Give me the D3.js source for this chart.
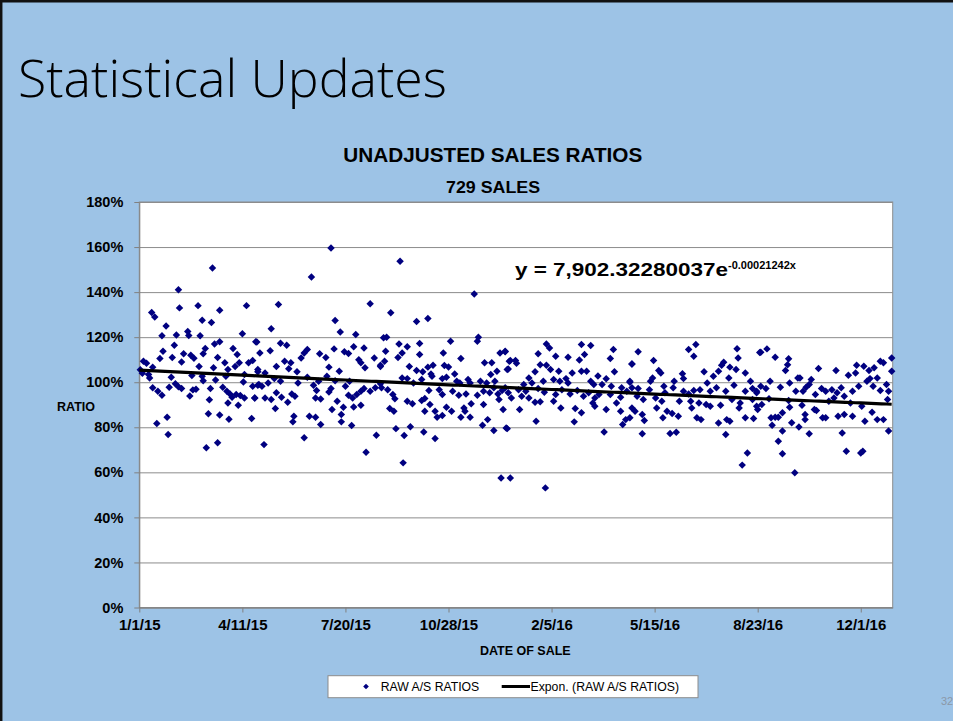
<!DOCTYPE html>
<html lang="en">
<head>
<meta charset="utf-8">
<title>Statistical Updates</title>
<script src="https://cdn.jsdelivr.net/npm/d3@7"></script>
<style>
  body { margin: 0; background: #9dc3e6; overflow: hidden; }
  svg { display: block; font-family: "Liberation Sans", Arial, sans-serif; }
  .grid line { stroke: #8c8c8c; stroke-width: 1; }
  .grid .domain { display: none; }
  .axis .domain, .axis line { stroke: #808080; }
  .axis text { fill: #000; font-weight: bold; }
  .sale { fill: #000080; }
  .trend { fill: none; stroke: #000; stroke-width: 3.2px; }
</style>
</head>
<body>
<svg width="953" height="721"></svg>
<script>
// ---- data (days after 1/1/15, ratio in %) ----
var chartTitle = "UNADJUSTED SALES RATIOS";
var chartSubtitle = "729 SALES";
var ratioTicks = [0, 20, 40, 60, 80, 100, 120, 140, 160, 180];
var dateTicks = ["1/1/15", "4/11/15", "7/20/15", "10/28/15", "2/5/16", "5/15/16", "8/23/16", "12/1/16"];

// fitted trend shown on the chart: y = 7,902.32280037e^(-0.00021242x), x = Excel date serial
var trendA = 7902.32280037;
var trendB = -0.00021242;

var sales2015a = [[1,105.5],[3,104],[71,150.7],[38,141],[39,133],[57,134],[104,134],[78,132],[12,131],[15,129],[61,127.5],[70,126.5],[26,125],[47,122.5],[22,120.6],[36,121],[48,120.7],[59,120.6],[100,121.5],[73,117],[78,118],[34,116.4],[64,115],[91,115],[113,118],[23,113.8],[43,112.6],[50,112],[62,112.6],[76,111],[95,112.3],[32,111],[20,110.5],[4,109.3],[7,108.4],[41,109],[53,110.6],[83,108.6],[97,108.6],[106,108.6],[110,109.6],[13,106.7],[58,107],[72,106.4],[86,105.6],[93,107],[115,105.6],[9,103.4],[31,102.2],[51,103],[61,102.7],[84,102.7],[102,103.4],[10,101.9],[62,100.7],[74,101],[101,100.1],[110,98.2],[115,98.7],[35,99.3],[38,98],[41,97.2],[29,97.8],[13,97.5],[18,96],[22,94.2],[52,96.6],[55,96.9],[49,93.9],[69,97.2],[81,97.8],[85,96],[88,94.8],[90,93.3],[94,94.5],[98,94.1],[102,93],[112,93],[68,92.2],[86,90.8],[96,89.8],[78,85.4],[67,86],[27,84.5],[87,83.6],[109,83.9],[17,81.7],[28,76.8],[65,70.9],[76,73.1]];

var sales2015b = [[186,159.6],[167,146.7],[135,134.5],[224,134.8],[190,127.4],[128,123.7],[195,122.3],[210,121.2],[237,119.7],[114,117.9],[137,117.3],[143,116.4],[127,114],[117,113],[163,114.5],[160,113],[189,114.8],[199,113.5],[203,112.7],[218,115.2],[208,115.7],[157,110.8],[175,112.6],[181,111],[228,110.8],[141,109.3],[147,108.6],[213,110],[133,107],[145,106],[153,104.6],[184,106.7],[194,104.9],[215,108.6],[219,106.4],[234,107.5],[115,104.6],[122,104.1],[163,102.2],[182,102.7],[174,100.4],[190,100.7],[204,100.4],[116,99],[119,98.2],[125,99.7],[131,101.6],[137,100.4],[154,99.7],[169,98.7],[172,96.3],[186,97.2],[200,98.2],[218,97.2],[224,96],[229,97.5],[234,99.3],[112,93],[122,93],[128,92.3],[133,95.3],[138,93.3],[148,94.8],[151,93.8],[171,93],[176,92.6],[184,95.7],[192,91.6],[203,94.2],[207,93],[211,94.5],[215,96],[144,91.1],[132,88.3],[187,87.9],[198,88.9],[208,89],[215,89.8],[165,84.9],[171,84.5],[150,84.9],[149,82.4],[176,81.2],[196,85.7],[196,82.4],[206,80.8],[121,72.3],[160,75.3],[220,68.9],[230,76.5]];

var sales2015c = [[253,153.7],[325,139.2],[244,130.8],[269,127],[280,128.3],[240,120],[252,117],[260,115.7],[272,117.2],[302,118.2],[329,120],[328,118.2],[350,113],[355,113.5],[239,113.8],[238,109.3],[255,113],[251,111],[272,112.3],[295,113],[312,110.5],[335,108.6],[342,108.6],[359,109.3],[234,107],[262,107],[269,105.2],[275,104.6],[280,106.7],[285,107.5],[283,103.7],[296,107.4],[300,106.8],[306,103.7],[341,103.4],[347,104.9],[357,105.6],[255,101.9],[260,101.6],[266,99.7],[274,101.2],[284,102.7],[294,101.6],[298,102.2],[308,100.4],[311,99.7],[319,101.2],[321,99.7],[331,100.4],[337,99.7],[345,100.4],[235,97.5],[241,96.7],[246,94.5],[248,92.7],[281,96.3],[291,96.7],[294,94.5],[304,96],[310,94.2],[317,94.8],[328,94.2],[334,96],[340,95.3],[344,97.5],[348,94.8],[352,96.3],[358,95.3],[260,91.6],[265,90.4],[274,91.9],[277,92.8],[282,90.1],[298,88.9],[303,87.1],[315,88.6],[316,87.1],[322,90.4],[334,90.1],[349,92.3],[353,87.9],[243,88.3],[247,87.1],[277,87.1],[287,87.1],[289,84.5],[294,85.2],[312,84.5],[321,84.5],[333,80.9],[338,83.4],[344,78.6],[356,79.7],[249,79.4],[263,80.2],[257,76.3],[276,77.9],[287,75],[256,64.2],[351,57.5],[360,57.5]];

var sales2016a = [[395,117],[398,115.2],[429,116.7],[438,116.3],[355,113.8],[387,112.6],[404,111.5],[416,111.1],[432,112.3],[460,114.5],[457,110.5],[427,109.9],[365,109.6],[360,109.6],[366,108.4],[358,105.9],[389,107.8],[395,107.5],[399,105.6],[407,104.9],[420,104.1],[429,104.9],[434,104.9],[445,102.8],[453,101.5],[461,104.6],[478,108.1],[476,100.4],[378,101.9],[381,99.7],[384,104.6],[392,100.4],[402,101.2],[408,100.4],[414,101.6],[416,99.7],[438,100.4],[441,99],[449,99],[458,98.2],[468,97.5],[355,97.5],[368,96.7],[373,99],[375,96],[387,97.2],[393,95.6],[404,94.5],[410,96.7],[418,94.8],[425,96.3],[431,93.8],[436,95.3],[442,93],[446,94.5],[457,94.5],[467,93.3],[473,96],[361,93],[371,93.8],[378,93],[384,91.1],[389,91.3],[402,91.6],[409,88.6],[423,88.3],[429,86.4],[442,89.3],[440,90.8],[453,87.9],[463,90.8],[467,87.1],[472,83.4],[469,81.2],[476,84.2],[369,87.9],[385,82.7],[422,82.4],[357,79.4],[451,77.9],[394,53.1]];

var sales2016b = [[540,116.7],[533,114.5],[538,111.5],[484,113.5],[478,108.1],[499,109.6],[580,114.9],[581,110.8],[602,113.2],[567,108.9],[565,107.5],[573,106.7],[579,105.6],[588,104.1],[562,104.9],[504,105.2],[506,104.1],[527,103.8],[548,104.6],[557,102.7],[498,101.9],[496,100.4],[519,100.4],[528,101.6],[551,99.7],[572,101.9],[577,98.7],[593,100.4],[476,100],[478,97.5],[484,97.2],[495,96.7],[509,98.2],[510,95.3],[518,97.5],[528,96],[533,94.8],[538,96.3],[544,96.7],[554,96],[560,97.5],[569,96],[588,96],[595,97.2],[599,95.3],[483,93.8],[489,92.3],[501,93],[507,91.6],[524,91.6],[535,91.6],[543,90.8],[550,90.1],[554,89.3],[564,89.8],[575,92.3],[583,90.8],[595,92.3],[599,89.3],[478,88.6],[481,87.1],[502,88.6],[512,87.1],[517,86.1],[523,84.9],[536,88.6],[541,84.2],[545,83.4],[562,81.9],[570,83.4],[573,82.7],[582,88.6],[588,84.2],[596,83.9],[488,85.7],[490,83],[508,84.2],[488,77.1],[515,77.2],[521,77.8],[569,76.8],[590,68.6],[585,63.2]];

var sales2016c = [[609,114.8],[603,113.3],[617,111.1],[630,110.4],[629,107.8],[627,105.2],[659,106.1],[676,105.2],[688,103.1],[695,104.1],[696,107.5],[703,107.1],[708,105.2],[713,106.4],[719,109.3],[722,108.6],[730,110.8],[730,104.9],[639,101.9],[641,101.9],[652,101.2],[650,99],[612,100.4],[603,98.2],[608,97.2],[599,96],[622,97.8],[631,99.7],[637,96],[644,96],[647,97.8],[656,94.5],[662,97.2],[666,96],[672,96.7],[677,95.3],[681,97.5],[684,93.8],[692,96],[698,98.2],[706,100.4],[709,101.6],[712,98.2],[716,101.9],[719,96.3],[725,99],[727,96],[611,92.7],[604,90.1],[600,87.9],[613,84.2],[617,84.5],[620,84.5],[624,86.4],[630,91.9],[631,88.9],[643,89.8],[646,85.7],[646,83.4],[655,87.9],[657,87.4],[663,84.2],[666,84.2],[669,91.6],[674,93],[678,84.9],[684,85.7],[690,90.8],[692,84.9],[701,89.3],[704,82.7],[711,86.7],[716,83.4],[722,83.4],[726,92.3],[727,78.3],[614,80.9],[633,82],[640,80.1],[650,77.1],[624,78.3],[620,73.8],[624,68.2],[636,59.8],[682,77.5],[686,69.4],[700,68.6],[702,69.4]];

var sales = [].concat(sales2015a, sales2015b, sales2015c, sales2016a, sales2016b, sales2016c);

// ---- layout ----
var svg = d3.select("svg");
var W = 953, H = 721;
var plot = {left: 139.3, right: 892.7, top: 202, bottom: 607.5};

var parseDate = d3.timeParse("%m/%d/%y");
var startDate = parseDate(dateTicks[0]);
var endDate = d3.timeDay.offset(startDate, 731);
var excelStart = 42005; // serial number of 1/1/15

var x = d3.scaleTime().domain([startDate, endDate]).range([plot.left, plot.right]);
var y = d3.scaleLinear().domain([0, 180]).range([plot.bottom, plot.top]);

// slide
svg.append("rect").attr("width", W).attr("height", H).attr("fill", "#9dc3e6");
svg.append("path").attr("d", "M1.2," + H + "V1.2H" + W)
    .attr("fill", "none").attr("stroke", "#111").attr("stroke-width", 2.5);

svg.append("text")
    .attr("x", 18).attr("y", 97)
    .attr("textLength", 429).attr("lengthAdjust", "spacingAndGlyphs")
    .style("font-family", "'Open Sans', 'Lato', 'Noto Sans', sans-serif")
    .style("font-weight", 300)
    .style("font-size", "51px")
    .attr("fill", "#000")
    .text("Statistical Updates");

// slide number, partly off the right edge as in the slide
svg.append("text")
    .attr("x", 941).attr("y", 705)
    .style("font-size", "11px").attr("fill", "#8b98a8")
    .text("32");

// chart titles
svg.append("text")
    .attr("x", 492.8).attr("y", 161.7).attr("text-anchor", "middle")
    .attr("textLength", 299).attr("lengthAdjust", "spacingAndGlyphs")
    .style("font-size", "20px").style("font-weight", "bold")
    .text(chartTitle);

svg.append("text")
    .attr("x", 493).attr("y", 192.7).attr("text-anchor", "middle")
    .attr("textLength", 94).attr("lengthAdjust", "spacingAndGlyphs")
    .style("font-size", "16px").style("font-weight", "bold")
    .text(chartSubtitle);

// plot area
svg.append("rect")
    .attr("x", plot.left).attr("y", plot.top)
    .attr("width", plot.right - plot.left).attr("height", plot.bottom - plot.top)
    .attr("fill", "#fff").attr("stroke", "#8c8c8c");

svg.append("g")
    .attr("class", "grid")
    .attr("transform", "translate(" + plot.left + ",0)")
    .call(d3.axisLeft(y).tickValues(ratioTicks).tickSize(-(plot.right - plot.left)).tickFormat(""));

var yAxis = svg.append("g")
    .attr("class", "axis")
    .attr("transform", "translate(" + plot.left + ",0)")
    .call(d3.axisLeft(y).tickValues(ratioTicks).tickSize(5).tickSizeOuter(0).tickPadding(11)
        .tickFormat(function(d) { return d + "%"; }));
yAxis.selectAll("text").style("font-size", "14.5px").style("font-family", "'Liberation Sans', Arial, sans-serif");

var xAxis = svg.append("g")
    .attr("class", "axis")
    .attr("transform", "translate(0," + plot.bottom + ")")
    .call(d3.axisBottom(x).tickValues(dateTicks.map(parseDate)).tickSize(5).tickSizeOuter(0).tickPadding(7)
        .tickFormat(function(d, i) { return dateTicks[i]; }));
xAxis.selectAll("text").style("font-size", "15px").style("font-family", "'Liberation Sans', Arial, sans-serif");

svg.append("text")
    .attr("x", 57).attr("y", 410.5)
    .style("font-size", "12.5px").style("font-weight", "bold")
    .text("RATIO");

svg.append("text")
    .attr("x", 525.3).attr("y", 654.5).attr("text-anchor", "middle")
    .style("font-size", "12.5px").style("font-weight", "bold")
    .text("DATE OF SALE");

// points
var diamond = d3.symbol().type(d3.symbolSquare).size(28);
svg.append("g")
    .selectAll("path")
    .data(sales)
    .enter().append("path")
    .attr("class", "sale")
    .attr("d", diamond)
    .attr("transform", function(d) {
        return "translate(" + x(d3.timeDay.offset(startDate, d[0])) + "," + y(d[1]) + ") rotate(45)";
    });

// exponential trend
var trendDays = d3.range(0, 732, 5);
var trendLine = d3.line()
    .x(function(d) { return x(d3.timeDay.offset(startDate, d)); })
    .y(function(d) { return y(100 * trendA * Math.exp(trendB * (excelStart + d))); });
svg.append("path").datum(trendDays).attr("class", "trend").attr("d", trendLine);

// equation
var eq = svg.append("text").attr("x", 515).attr("y", 276).style("font-weight", "bold");
eq.append("tspan")
    .attr("textLength", 213).attr("lengthAdjust", "spacingAndGlyphs")
    .style("font-size", "18px")
    .text("y = 7,902.32280037e");
eq.append("tspan")
    .attr("dy", -7).attr("textLength", 68).attr("lengthAdjust", "spacingAndGlyphs")
    .style("font-size", "11.5px")
    .text("-0.00021242x");

// legend
var legend = svg.append("g");
legend.append("rect")
    .attr("x", 328).attr("y", 675.7).attr("width", 370).attr("height", 22)
    .attr("fill", "#fff").attr("stroke", "#8c8c8c");
legend.append("path")
    .attr("class", "sale")
    .attr("d", d3.symbol().type(d3.symbolSquare).size(16))
    .attr("transform", "translate(366,686.5) rotate(45)");
legend.append("text")
    .attr("x", 380.7).attr("y", 691)
    .attr("textLength", 98.6).attr("lengthAdjust", "spacingAndGlyphs")
    .style("font-size", "12px")
    .text("RAW A/S RATIOS");
legend.append("line")
    .attr("x1", 501.7).attr("x2", 530).attr("y1", 686.5).attr("y2", 686.5)
    .attr("stroke", "#000").attr("stroke-width", 3);
legend.append("text")
    .attr("x", 530.5).attr("y", 691)
    .attr("textLength", 148.5).attr("lengthAdjust", "spacingAndGlyphs")
    .style("font-size", "12px")
    .text("Expon. (RAW A/S RATIOS)");
</script>
</body>
</html>
